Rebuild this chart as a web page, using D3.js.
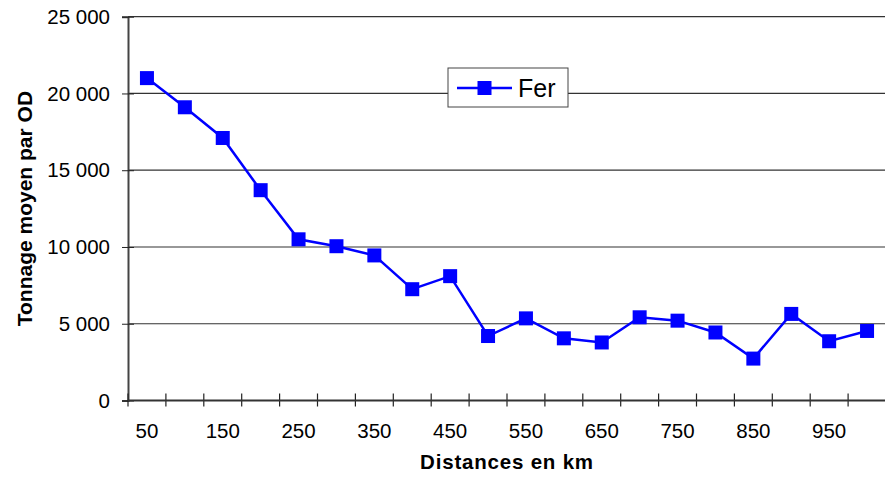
<!DOCTYPE html>
<html>
<head>
<meta charset="utf-8">
<script src="https://cdn.jsdelivr.net/npm/d3@7/dist/d3.min.js"></script>
<style>
  html, body { margin: 0; padding: 0; background: #fff; }
  svg { display: block; font-family: "Liberation Sans", Arial, sans-serif; }
</style>
</head>
<body>
<svg id="chart" width="885" height="477"></svg>
<script>
// Distance classes (km) and average tonnage per origin-destination pair
const distances = [50, 100, 150, 200, 250, 300, 350, 400, 450, 500,
                   550, 600, 650, 700, 750, 800, 850, 900, 950, 1000];
const ferValues = [21000, 19100, 17100, 13700, 10500, 10050, 9450, 7250, 8100, 4200,
                   5350, 4050, 3780, 5420, 5200, 4430, 2730, 5640, 3860, 4530];
const yTicks = [0, 5000, 10000, 15000, 20000, 25000];
const seriesName = "Fer";
const xTitle = "Distances en km";
const yTitle = "Tonnage moyen par OD";

const svg = d3.select("#chart");
const plot = { left: 128, right: 886, top: 16.7, bottom: 400.5 };
const blue = "#0000ff";

const x = d3.scaleBand()
  .domain(distances)
  .range([plot.left, plot.right])
  .paddingInner(0).paddingOuter(0);

const y = d3.scaleLinear()
  .domain([0, 25000])
  .range([plot.bottom, plot.top]);

const fr = d3.formatLocale({ decimal: ",", thousands: "\u00a0", grouping: [3], currency: ["", " €"] });
const fmt = fr.format(",d");

// Horizontal gridlines
svg.append("g")
  .selectAll("line")
  .data(yTicks.filter(d => d > 0))
  .join("line")
  .attr("x1", plot.left).attr("x2", plot.right)
  .attr("y1", d => y(d)).attr("y2", d => y(d))
  .attr("stroke", "#333").attr("stroke-width", 1.2);

// Y axis
const yAxis = svg.append("g")
  .attr("transform", `translate(${plot.left},0)`)
  .call(d3.axisLeft(y).tickValues(yTicks).tickFormat(fmt).tickSize(6).tickPadding(12));
yAxis.select(".domain").attr("stroke", "#444").attr("stroke-width", 2);
yAxis.selectAll(".tick line").attr("stroke", "#222").attr("x2", -6).attr("x1", 6);
yAxis.selectAll(".tick text")
  .attr("font-size", 20.5).attr("fill", "#000")
  .attr("font-family", "'Liberation Sans', Arial, sans-serif");

// X axis with ticks between categories
const boundaries = distances.map(d => x(d)).concat([x(distances[distances.length - 1]) + x.bandwidth()]);
svg.append("g")
  .selectAll("line")
  .data(boundaries)
  .join("line")
  .attr("x1", d => d).attr("x2", d => d)
  .attr("y1", plot.bottom - 7).attr("y2", plot.bottom + 6)
  .attr("stroke", "#222").attr("stroke-width", 1.2);

svg.append("line")
  .attr("x1", plot.left).attr("x2", plot.right)
  .attr("y1", plot.bottom).attr("y2", plot.bottom)
  .attr("stroke", "#333").attr("stroke-width", 2);

svg.append("g")
  .selectAll("text")
  .data(distances.filter((d, i) => i % 2 === 0))
  .join("text")
  .attr("x", d => x(d) + x.bandwidth() / 2)
  .attr("y", 438)
  .attr("text-anchor", "middle")
  .attr("font-size", 20.5)
  .text(d => d);

// Axis titles
svg.append("text")
  .attr("x", (plot.left + plot.right) / 2)
  .attr("y", 469)
  .attr("text-anchor", "middle")
  .attr("font-size", 20.5)
  .attr("font-weight", "bold")
  .attr("letter-spacing", 0.8)
  .text(xTitle);

svg.append("text")
  .attr("transform", `translate(32,${(plot.top + plot.bottom) / 2}) rotate(-90)`)
  .attr("text-anchor", "middle")
  .attr("font-size", 21)
  .attr("font-weight", "bold")
  .text(yTitle);

// Series line and square markers
const line = d3.line()
  .x((d, i) => x(distances[i]) + x.bandwidth() / 2)
  .y(d => y(d));

svg.append("path")
  .datum(ferValues)
  .attr("d", line)
  .attr("fill", "none")
  .attr("stroke", blue)
  .attr("stroke-width", 2.5);

const ms = 14;
svg.append("g")
  .selectAll("rect")
  .data(ferValues)
  .join("rect")
  .attr("x", (d, i) => x(distances[i]) + x.bandwidth() / 2 - ms / 2)
  .attr("y", d => y(d) - ms / 2)
  .attr("width", ms).attr("height", ms)
  .attr("fill", blue);

// Legend
const lg = svg.append("g").attr("transform", "translate(448,68)");
lg.append("rect")
  .attr("x", 0).attr("y", 0).attr("width", 120).attr("height", 39)
  .attr("fill", "#fff").attr("stroke", "#444").attr("stroke-width", 1);
lg.append("line")
  .attr("x1", 9).attr("x2", 64).attr("y1", 20).attr("y2", 20)
  .attr("stroke", blue).attr("stroke-width", 2.5);
lg.append("rect")
  .attr("x", 36.5 - ms / 2).attr("y", 20 - ms / 2)
  .attr("width", ms).attr("height", ms).attr("fill", blue);
lg.append("text")
  .attr("x", 70).attr("y", 28.5)
  .attr("font-size", 25)
  .text(seriesName);
</script>
</body>
</html>
